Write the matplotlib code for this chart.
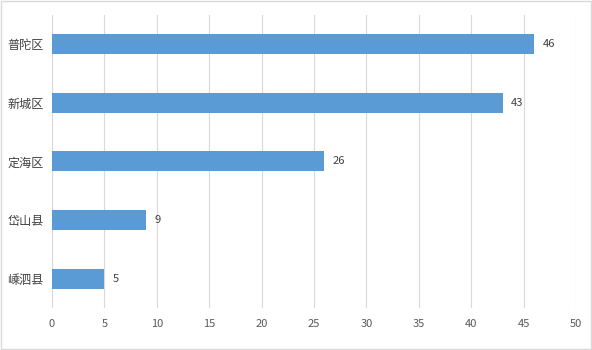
import matplotlib
matplotlib.use("Agg")
import matplotlib.pyplot as plt
from matplotlib.patches import Rectangle

plt.rcParams['font.family'] = ['Noto Sans CJK SC', 'DejaVu Sans']

categories = ["普陀区", "新城区", "定海区", "岱山县", "嵊泗县"]
values = [46, 43, 26, 9, 5]
xticks = [0, 5, 10, 15, 20, 25, 30, 35, 40, 45, 50]

fig = plt.figure(figsize=(5.92, 3.5), dpi=100)
ax = fig.add_axes([0.0878, 0.12, 0.885, 0.838])

ypos = list(range(len(categories)))[::-1]
ax.barh(ypos, values, height=0.34, color="#5b9bd5", zorder=3)
for y, v in zip(ypos, values):
    ax.text(v + 0.8, y, str(v), va="center", ha="left", fontsize=8, color="#404040")

ax.set_xlim(0, 50)
ax.set_ylim(-0.5, len(categories) - 0.5)
ax.set_xticks(xticks)
ax.set_xticklabels([str(t) for t in xticks], fontsize=8, color="#595959")
ax.set_yticks(ypos)
ax.set_yticklabels(categories, fontsize=8.7, color="#404040")
ax.tick_params(axis="both", length=0)
ax.tick_params(axis="x", pad=8)
ax.tick_params(axis="y", pad=6)
ax.grid(axis="x", color="#d9d9d9", linewidth=0.8, zorder=0)
for s in ax.spines.values():
    s.set_visible(False)

fig.patches.append(Rectangle((0.002, 0.003), 0.996, 0.994, transform=fig.transFigure,
                             fill=False, edgecolor="#d9d9d9", linewidth=1))

fig.savefig("out.png", dpi=100)
